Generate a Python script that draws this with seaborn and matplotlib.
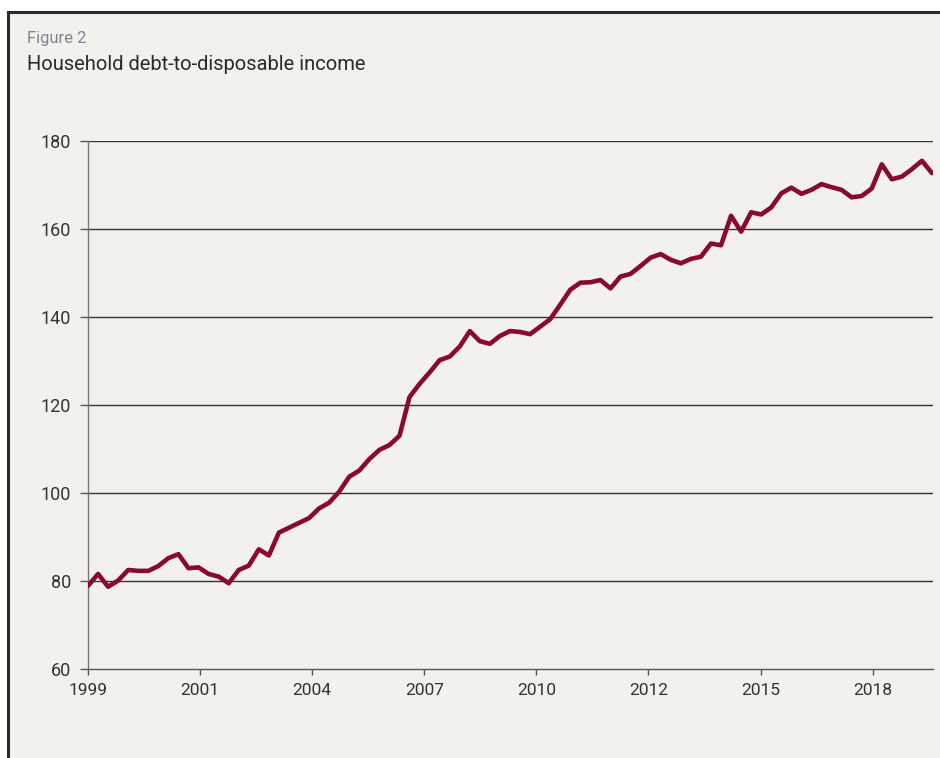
import matplotlib
matplotlib.use('Agg')
import matplotlib.pyplot as plt
import matplotlib.patches as patches
import numpy as np
import pandas as pd
import seaborn as sns

# Quarterly household debt-to-disposable income, 1999 Q1 onwards
quarter = list(range(85))
ratio = [
    78.9, 81.6, 78.7, 80.1, 82.5, 82.3, 82.3, 83.4, 85.2, 86.1,
    82.9, 83.1, 81.6, 81.0, 79.5, 82.5, 83.5, 87.2, 85.8, 91.0,
    92.1, 93.2, 94.3, 96.5, 97.8, 100.3, 103.7, 105.1, 107.7, 109.8,
    110.9, 113.0, 121.8, 124.8, 127.4, 130.2, 131.0, 133.3, 136.8, 134.5,
    133.9, 135.7, 136.8, 136.6, 136.1, 137.8, 139.5, 142.8, 146.2, 147.8,
    147.9, 148.4, 146.5, 149.2, 149.8, 151.6, 153.5, 154.3, 153.0, 152.2,
    153.2, 153.7, 156.7, 156.3, 163.0, 159.4, 163.8, 163.3, 164.9, 168.1,
    169.4, 168.0, 168.9, 170.2, 169.5, 168.9, 167.2, 167.5, 169.2, 174.7,
    171.3, 171.9, 173.6, 175.5, 172.7,
]
year_labels = ['1999', '2001', '2004', '2007', '2010', '2012', '2015', '2018']
y_ticks = [60, 80, 100, 120, 140, 160, 180]

df = pd.DataFrame({'quarter': quarter, 'ratio': ratio})

sns.set_theme(style='white')
plt.rcParams['font.family'] = ['Roboto', 'DejaVu Sans']

bg = '#f2f1eb'
line_col = '#880a2e'

fig = plt.figure(figsize=(9.4, 7.58), dpi=100)
fig.patch.set_facecolor('white')

# framed panel (runs off the right and bottom edges)
panel = patches.Rectangle((8 / 940, -0.05), 1.2, 1 - 12 / 758 + 0.05,
                          transform=fig.transFigure, facecolor=bg,
                          edgecolor='#2b2b2b', linewidth=2.2, zorder=-10)
fig.patches.append(panel)

ax = fig.add_axes([88 / 940, 1 - 669 / 758, 845 / 940, 528 / 758])
ax.set_facecolor(bg)
ax.set_zorder(1)

sns.lineplot(data=df, x='quarter', y='ratio', ax=ax, color=line_col,
             linewidth=3.3, zorder=3)

xmax = 84.1
ax.set_xlim(0, xmax)
ax.set_ylim(60, 180)
step = xmax * 112.1 / 845
ax.set_xticks([i * step for i in range(len(year_labels))])
ax.set_xticklabels(year_labels)
ax.set_yticks(y_ticks)

for y in y_ticks[1:]:
    ax.axhline(y, color='#333333', linewidth=1.0, zorder=1)

for side in ['top', 'right']:
    ax.spines[side].set_visible(False)
ax.spines['left'].set_color('#777777')
ax.spines['left'].set_linewidth(1.0)
ax.spines['bottom'].set_color('#555555')
ax.spines['bottom'].set_linewidth(1.0)

ax.tick_params(axis='y', direction='out', length=6, width=1.0, color='#555555',
               labelsize=13, labelcolor='#333333', pad=6, left=True)
ax.tick_params(axis='x', direction='out', length=4, width=1.0, color='#555555',
               labelsize=12.5, labelcolor='#333333', pad=6, bottom=True)
ax.set_xlabel('')
ax.set_ylabel('')

fig.text(27 / 940, 1 - 38 / 758, 'Figure 2', fontsize=12, color='#7b8793',
         va='center', ha='left')
fig.text(27 / 940, 1 - 65 / 758, 'Household debt-to-disposable income',
         fontsize=14.5, color='#2a2a2a', va='center', ha='left')

fig.savefig('out.png', dpi=100, facecolor=fig.get_facecolor())
